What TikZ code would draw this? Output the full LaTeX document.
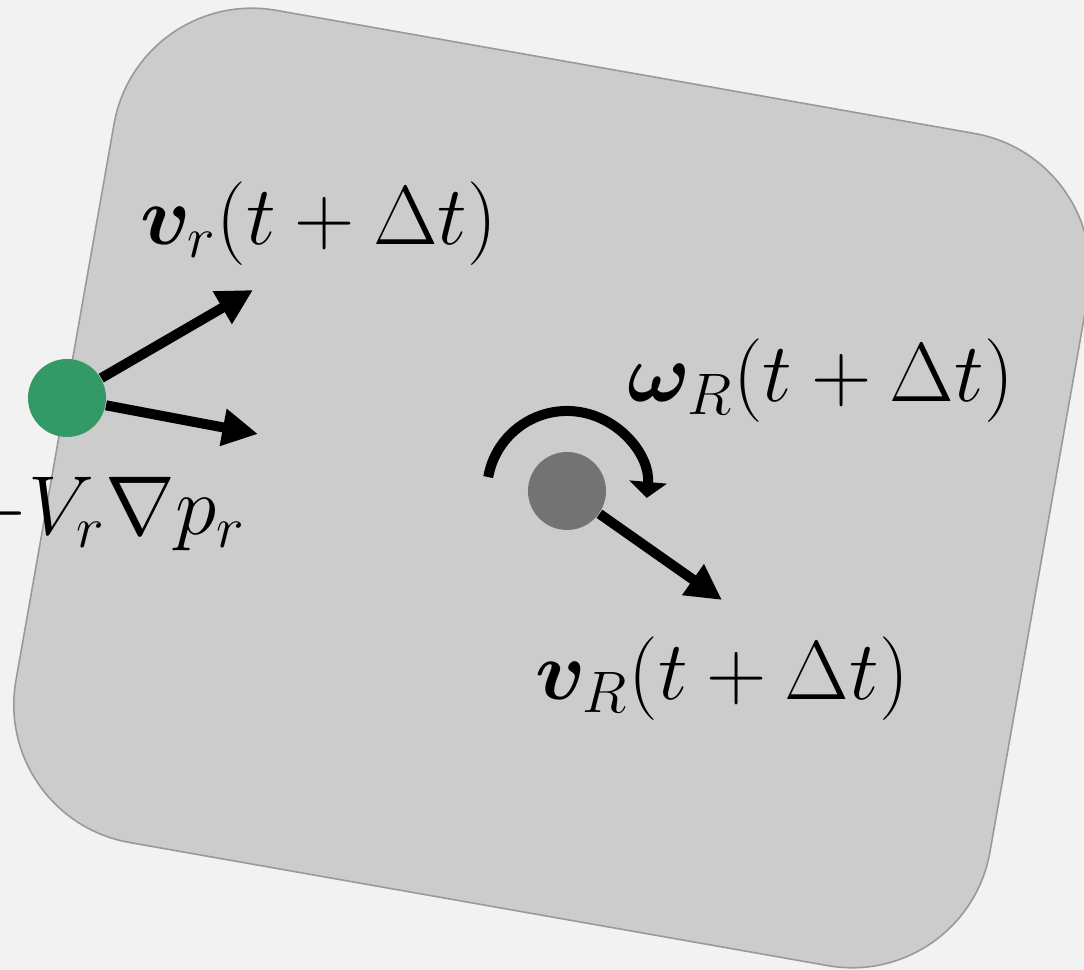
\RequirePackage{fix-cm}
\documentclass[tikz,border=0pt]{standalone}
\usepackage{amsmath,bm}
\usetikzlibrary{arrows.meta}

\definecolor{bggray}{HTML}{F2F2F2}
\definecolor{cellgray}{HTML}{CCCCCC}
\definecolor{edgegray}{HTML}{999999}
\definecolor{fluidgreen}{HTML}{339966}
\definecolor{solidgray}{HTML}{737373}

\begin{document}
\begin{tikzpicture}[
      cell/.style={draw=edgegray, fill=cellgray, line width=0.45pt, rounded corners=1.4cm,
        minimum width=9.89cm, minimum height=8.45cm, rotate=-10, inner sep=0pt},
      particle/.style={circle, inner sep=0pt, minimum size=0.78cm},
      vec/.style={line width=0.1cm, -{Triangle[length=0.355cm, width=0.355cm]}},
      spin/.style={line width=0.1cm, -{Triangle[length=0.16cm, width=0.37cm]}},
      lab/.style={inner sep=0pt, font=\fontsize{23.8}{28}\selectfont}
    ]
    \fill[bggray] (0,0) rectangle (10.84,9.70);
    \clip (0,0) rectangle (10.84,9.70);

    \node[cell] (box) at (5.52,4.82) {};

    \node[particle, fill=fluidgreen] (fluid) at (0.67,5.72) {};
    \node[particle, fill=solidgray] (solid) at (5.67,4.79) {};

    \coordinate (vrtip) at (2.53,6.80);
    \coordinate (ftip) at (2.58,5.36);
    \coordinate (vRtip) at (7.22,3.70);

    \draw[vec] (fluid) -- (vrtip);
    \draw[vec] (fluid) -- (ftip);
    \draw[vec] (solid) -- (vRtip);
    \draw[spin] ([shift={(170:0.80)}]solid.center) arc[start angle=170, end angle=-5, radius=0.80];

    \node[lab, anchor=base] (vrlab) at (3.185,7.25) {$\bm{v}_r(t+\Delta t)$};
    \node[lab, anchor=base] (wlab) at (8.205,5.68) {$\bm{\omega}_R(t+\Delta t)$};
    \node[lab, anchor=base east] (plab) at (2.46,4.35) {$-V_r\nabla p_r$};
    \node[lab, anchor=base] (vRlab) at (7.22,2.70) {$\bm{v}_R(t+\Delta t)$};
  \end{tikzpicture}
\end{document}
